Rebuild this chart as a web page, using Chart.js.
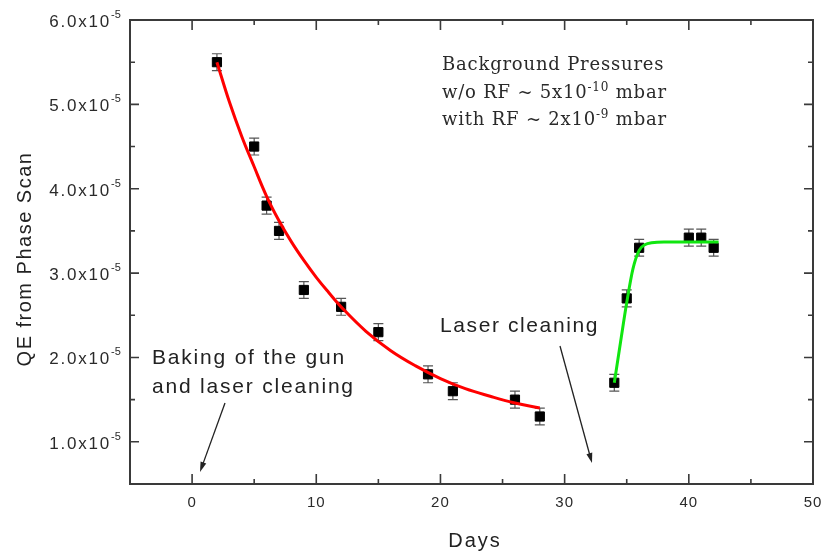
<!DOCTYPE html>
<html>
<head>
<meta charset="utf-8">
<script src="https://cdn.jsdelivr.net/npm/chart.js@4"></script>
<style>
  body { margin: 0; background: #fff; }
  #wrap { width: 821px; height: 552px; }
</style>
</head>
<body>
<div id="wrap"><canvas id="qeChart" width="821" height="552"></canvas></div>
<script>
// measured points (days, QE)
const decayDays = [2, 5, 6, 7, 9, 12, 15, 19, 21, 26, 28];
const decayQE = [5.5e-5, 4.5e-5, 3.8e-5, 3.5e-5, 2.8e-5, 2.6e-5, 2.3e-5, 1.8e-5, 1.6e-5, 1.5e-5, 1.3e-5];
const decayErr = [0.1e-5, 0.1e-5, 0.1e-5, 0.1e-5, 0.1e-5, 0.1e-5, 0.1e-5, 0.1e-5, 0.1e-5, 0.1e-5, 0.1e-5];

const recoverDays = [34, 35, 36, 40, 41, 42];
const recoverQE = [1.7e-5, 2.7e-5, 3.3e-5, 3.42e-5, 3.42e-5, 3.3e-5];
const recoverErr = [0.1e-5, 0.1e-5, 0.1e-5, 0.1e-5, 0.1e-5, 0.1e-5];

// fit curves
const decayFitDays = [2, 3, 4, 5, 6, 7, 8, 9, 10, 11, 12, 14, 16, 18, 20, 22, 24, 26, 28];
const decayFitQE = [5.5e-5, 5.03e-5, 4.62e-5, 4.26e-5, 3.91e-5, 3.62e-5, 3.37e-5, 3.15e-5, 2.95e-5, 2.77e-5,
  2.6e-5, 2.31e-5, 2.08e-5, 1.9e-5, 1.75e-5, 1.63e-5, 1.54e-5, 1.46e-5, 1.4e-5];
const recoverFitDays = [34, 34.5, 35, 35.5, 36, 36.5, 37, 38, 40, 42.4];
const recoverFitQE = [1.7e-5, 2.18e-5, 2.65e-5, 3.05e-5, 3.27e-5, 3.34e-5, 3.36e-5, 3.37e-5, 3.37e-5, 3.37e-5];

// axis ticks
const xTicks = [0, 10, 20, 30, 40, 50];
const xMinorTicks = [5, 15, 25, 35, 45];
const yTicks = [1e-5, 2e-5, 3e-5, 4e-5, 5e-5, 6e-5];
const yMinorTicks = [1.5e-5, 2.5e-5, 3.5e-5, 4.5e-5, 5.5e-5];

const SANS = '"Liberation Sans", Arial, sans-serif';
const SERIF = '"DejaVu Serif", "Liberation Serif", serif';

function pts(xs, ys) {
  return xs.map((x, i) => ({ x: x, y: ys[i] }));
}

function arrow(ctx, x1, y1, x2, y2) {
  const a = Math.atan2(y2 - y1, x2 - x1);
  ctx.beginPath();
  ctx.moveTo(x1, y1);
  ctx.lineTo(x2 - 6 * Math.cos(a), y2 - 6 * Math.sin(a));
  ctx.stroke();
  ctx.beginPath();
  ctx.moveTo(x2, y2);
  ctx.lineTo(x2 - 10 * Math.cos(a) + 3 * Math.sin(a), y2 - 10 * Math.sin(a) - 3 * Math.cos(a));
  ctx.lineTo(x2 - 10 * Math.cos(a) - 3 * Math.sin(a), y2 - 10 * Math.sin(a) + 3 * Math.cos(a));
  ctx.closePath();
  ctx.fill();
}

// text with superscript pieces: parts = [[text, isSup], ...]
function runs(ctx, x, y, parts, size, family) {
  parts.forEach(p => {
    const sup = p[1];
    ctx.font = (sup ? Math.round(size * 0.65) : size) + 'px ' + family;
    ctx.fillText(p[0], x, sup ? y - size * 0.4 : y);
    x += ctx.measureText(p[0]).width;
  });
}

const errorBars = {
  id: 'errorBars',
  beforeDatasetsDraw(chart) {
    const { ctx, scales: { x, y } } = chart;
    ctx.save();
    ctx.strokeStyle = '#555';
    ctx.lineWidth = 1.2;
    [[decayDays, decayQE, decayErr], [recoverDays, recoverQE, recoverErr]].forEach(set => {
      set[0].forEach((d, i) => {
        const px = x.getPixelForValue(d);
        const top = y.getPixelForValue(set[1][i] + set[2][i]);
        const bot = y.getPixelForValue(set[1][i] - set[2][i]);
        ctx.beginPath();
        ctx.moveTo(px, top); ctx.lineTo(px, bot);
        ctx.moveTo(px - 5, top); ctx.lineTo(px + 5, top);
        ctx.moveTo(px - 5, bot); ctx.lineTo(px + 5, bot);
        ctx.stroke();
      });
    });
    ctx.restore();
  }
};

const frame = {
  id: 'frame',
  afterDraw(chart) {
    const { ctx, chartArea: a, scales: { x, y } } = chart;
    ctx.save();
    ctx.strokeStyle = '#3a3a3a';
    ctx.lineWidth = 2;
    ctx.strokeRect(a.left, a.top, a.right - a.left, a.bottom - a.top);

    ctx.lineWidth = 1.6;
    ctx.beginPath();
    const xt = (v, len) => {
      const px = x.getPixelForValue(v);
      ctx.moveTo(px, a.bottom); ctx.lineTo(px, a.bottom - len);
      ctx.moveTo(px, a.top); ctx.lineTo(px, a.top + len);
    };
    const yt = (v, len) => {
      const py = y.getPixelForValue(v);
      ctx.moveTo(a.left, py); ctx.lineTo(a.left + len, py);
      ctx.moveTo(a.right, py); ctx.lineTo(a.right - len, py);
    };
    xTicks.forEach(v => xt(v, 10));
    xMinorTicks.forEach(v => xt(v, 5));
    yTicks.forEach(v => yt(v, 9));
    yMinorTicks.forEach(v => yt(v, 5));
    ctx.stroke();

    // tick labels
    ctx.fillStyle = '#2a2a2a';
    ctx.letterSpacing = '1px';
    ctx.font = '15px ' + SANS;
    ctx.textAlign = 'center';
    xTicks.forEach(v => ctx.fillText(String(v), x.getPixelForValue(v), 507));

    yTicks.forEach(v => {
      const py = y.getPixelForValue(v);
      ctx.letterSpacing = '1.8px';
      ctx.font = '17px ' + SANS;
      ctx.textAlign = 'right';
      ctx.fillText((v / 1e-5).toFixed(1) + 'x10', 111, py + 7);
      ctx.letterSpacing = '0px';
      ctx.font = '11px ' + SANS;
      ctx.textAlign = 'left';
      ctx.fillText('-5', 111, py - 2);
    });

    // axis titles
    ctx.fillStyle = '#222';
    ctx.textAlign = 'center';
    ctx.letterSpacing = '2px';
    ctx.font = '20px ' + SANS;
    ctx.fillText('Days', 475, 547);
    ctx.save();
    ctx.translate(31, 259);
    ctx.rotate(-Math.PI / 2);
    ctx.letterSpacing = '1.5px';
    ctx.fillText('QE from Phase Scan', 0, 0);
    ctx.restore();

    // annotations
    ctx.textAlign = 'left';
    ctx.letterSpacing = '1.8px';
    ctx.font = '21px ' + SANS;
    ctx.fillText('Baking of the gun', 152, 364);
    ctx.fillText('and laser cleaning', 152, 393);
    ctx.letterSpacing = '1.6px';
    ctx.fillText('Laser cleaning', 440, 332);

    ctx.letterSpacing = '0.8px';
    ctx.fillStyle = '#2a2a2a';
    runs(ctx, 442, 70, [['Background Pressures', false]], 18, SERIF);
    runs(ctx, 442, 98, [['w/o RF ~ 5x10', false], ['-10', true], [' mbar', false]], 18, SERIF);
    runs(ctx, 442, 125, [['with RF ~ 2x10', false], ['-9', true], [' mbar', false]], 18, SERIF);

    ctx.letterSpacing = '0px';
    ctx.strokeStyle = '#222';
    ctx.fillStyle = '#222';
    ctx.lineWidth = 1.3;
    arrow(ctx, 225, 403, 200, 472);
    arrow(ctx, 560, 346, 592, 463);
    ctx.restore();
  }
};

new Chart(document.getElementById('qeChart'), {
  type: 'scatter',
  data: {
    datasets: [
      {
        data: pts(decayFitDays, decayFitQE),
        showLine: true,
        borderColor: '#ff0000',
        borderWidth: 3,
        pointRadius: 0,
        tension: 0.4
      },
      {
        data: pts(recoverFitDays, recoverFitQE),
        showLine: true,
        borderColor: '#10e610',
        borderWidth: 3,
        pointRadius: 0,
        cubicInterpolationMode: 'monotone'
      },
      {
        data: pts(decayDays, decayQE),
        pointStyle: 'rect',
        pointRadius: 6.5,
        backgroundColor: '#000',
        borderColor: '#000',
        borderWidth: 1
      },
      {
        data: pts(recoverDays, recoverQE),
        pointStyle: 'rect',
        pointRadius: 6.5,
        backgroundColor: '#000',
        borderColor: '#000',
        borderWidth: 1
      }
    ]
  },
  options: {
    responsive: false,
    animation: false,
    layout: { padding: { top: 20, right: 8, left: 0, bottom: 0 } },
    plugins: { legend: { display: false }, tooltip: { enabled: false } },
    scales: {
      x: {
        type: 'linear',
        min: -5,
        max: 50,
        grid: { display: false },
        border: { display: false },
        ticks: { display: false },
        afterFit(s) { s.height = 68; }
      },
      y: {
        min: 0.5e-5,
        max: 6e-5,
        grid: { display: false },
        border: { display: false },
        ticks: { display: false },
        afterFit(s) { s.width = 130; }
      }
    }
  },
  plugins: [errorBars, frame]
});
</script>
</body>
</html>
